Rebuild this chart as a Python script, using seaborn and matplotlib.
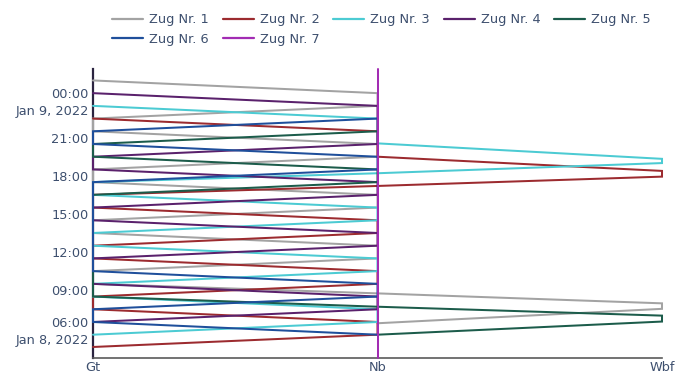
import matplotlib
matplotlib.use("Agg")
import matplotlib.pyplot as plt
from matplotlib.lines import Line2D
import seaborn as sns
import pandas as pd

# ---------------- data ----------------
stationen = ["Gt", "Nb", "Wbf"]
zuege = ["Zug Nr. 1", "Zug Nr. 2", "Zug Nr. 3", "Zug Nr. 4", "Zug Nr. 5", "Zug Nr. 6", "Zug Nr. 7"]
farben = ["#a3a3a3", "#9c2b2f", "#4ccbd3", "#5a216c", "#1c5c4b", "#1f4f9b", "#a22cb3"]

zug1_stationen = ["Nb", "Wbf", "Wbf", "Nb", "Gt", "Gt", "Nb", "Nb", "Gt", "Gt", "Nb",
                  "Nb", "Gt", "Gt", "Nb", "Nb", "Gt", "Gt", "Nb", "Nb", "Gt"]
zug1_zeiten = ["2022-01-08 06:24", "2022-01-08 07:32", "2022-01-08 07:58", "2022-01-08 08:45",
               "2022-01-08 09:30", "2022-01-08 10:30", "2022-01-08 11:30", "2022-01-08 12:30",
               "2022-01-08 13:30", "2022-01-08 14:30", "2022-01-08 15:30", "2022-01-08 16:30",
               "2022-01-08 17:30", "2022-01-08 18:30", "2022-01-08 19:30", "2022-01-08 20:30",
               "2022-01-08 21:30", "2022-01-08 22:30", "2022-01-08 23:30", "2022-01-09 00:30",
               "2022-01-09 01:30"]

zug2_stationen = ["Gt", "Nb", "Nb", "Gt", "Gt", "Nb", "Nb", "Gt", "Gt", "Nb", "Nb", "Gt",
                  "Gt", "Nb", "Wbf", "Wbf", "Nb", "Nb", "Gt"]
zug2_zeiten = ["2022-01-08 04:32", "2022-01-08 05:30", "2022-01-08 06:30", "2022-01-08 07:30",
               "2022-01-08 08:30", "2022-01-08 09:30", "2022-01-08 10:30", "2022-01-08 11:30",
               "2022-01-08 12:30", "2022-01-08 13:30", "2022-01-08 14:30", "2022-01-08 15:30",
               "2022-01-08 16:30", "2022-01-08 17:12", "2022-01-08 17:56", "2022-01-08 18:23",
               "2022-01-08 19:30", "2022-01-08 21:30", "2022-01-08 22:30"]

zug3_stationen = ["Gt", "Nb", "Nb", "Gt", "Gt", "Nb", "Nb", "Gt", "Gt", "Nb", "Nb", "Gt",
                  "Gt", "Nb", "Wbf", "Wbf", "Nb", "Nb", "Gt"]
zug3_zeiten = ["2022-01-08 05:30", "2022-01-08 06:30", "2022-01-08 07:30", "2022-01-08 08:30",
               "2022-01-08 09:30", "2022-01-08 10:30", "2022-01-08 11:30", "2022-01-08 12:30",
               "2022-01-08 13:30", "2022-01-08 14:30", "2022-01-08 15:30", "2022-01-08 16:30",
               "2022-01-08 17:30", "2022-01-08 18:12", "2022-01-08 19:00", "2022-01-08 19:20",
               "2022-01-08 20:33", "2022-01-08 22:30", "2022-01-08 23:30"]

zug4_stationen = ["Gt", "Nb", "Nb", "Gt", "Gt", "Nb", "Nb", "Gt", "Gt", "Nb", "Nb", "Gt",
                  "Gt", "Nb", "Nb", "Gt"]
zug4_zeiten = ["2022-01-08 06:30", "2022-01-08 07:30", "2022-01-08 08:30", "2022-01-08 09:30",
               "2022-01-08 11:30", "2022-01-08 12:30", "2022-01-08 13:30", "2022-01-08 14:30",
               "2022-01-08 15:30", "2022-01-08 16:30", "2022-01-08 17:30", "2022-01-08 18:30",
               "2022-01-08 19:30", "2022-01-08 20:30", "2022-01-08 23:30", "2022-01-09 00:30"]

zug5_stationen = ["Nb", "Wbf", "Wbf", "Nb", "Gt", "Gt", "Nb", "Nb", "Gt", "Gt", "Nb"]
zug5_zeiten = ["2022-01-08 05:30", "2022-01-08 06:32", "2022-01-08 07:00", "2022-01-08 07:42",
               "2022-01-08 08:30", "2022-01-08 16:30", "2022-01-08 17:30", "2022-01-08 18:30",
               "2022-01-08 19:30", "2022-01-08 20:30", "2022-01-08 21:30"]

zug6_stationen = ["Nb", "Gt", "Gt", "Nb", "Nb", "Gt", "Gt", "Nb", "Nb", "Gt", "Gt", "Nb"]
zug6_zeiten = ["2022-01-08 05:30", "2022-01-08 06:30", "2022-01-08 07:30", "2022-01-08 08:30",
               "2022-01-08 09:30", "2022-01-08 10:30", "2022-01-08 17:30", "2022-01-08 18:30",
               "2022-01-08 19:30", "2022-01-08 20:30", "2022-01-08 21:30", "2022-01-08 22:30"]

zug7_stationen = ["Nb", "Nb"]
zug7_zeiten = ["2022-01-08 03:40", "2022-01-09 02:24"]

ytick_zeiten = ["2022-01-08 06:00", "2022-01-08 09:00", "2022-01-08 12:00", "2022-01-08 15:00",
                "2022-01-08 18:00", "2022-01-08 21:00", "2022-01-09 00:00"]
ytick_labels = ["06:00\nJan 8, 2022", "09:00", "12:00", "15:00", "18:00", "21:00", "00:00\nJan 9, 2022"]

# ---------------- build frame ----------------
basis = pd.Timestamp("2022-01-08 00:00")
alle_stationen = [zug1_stationen, zug2_stationen, zug3_stationen, zug4_stationen,
                  zug5_stationen, zug6_stationen, zug7_stationen]
alle_zeiten = [zug1_zeiten, zug2_zeiten, zug3_zeiten, zug4_zeiten,
               zug5_zeiten, zug6_zeiten, zug7_zeiten]
frames = []
for name, st, zt in zip(zuege, alle_stationen, alle_zeiten):
    frames.append(pd.DataFrame({"Zug": name, "Station": st, "Zeit": pd.to_datetime(zt)}))
df = pd.concat(frames, ignore_index=True)
df["x"] = df["Station"].map({s: i for i, s in enumerate(stationen)})
df["h"] = (df["Zeit"] - basis).dt.total_seconds() / 3600.0

# ---------------- plot ----------------
sns.set_theme(style="white")
plt.rcParams["font.family"] = ["DejaVu Sans"]
txt = "#3d4f6e"

W, H = 677, 374
fig = plt.figure(figsize=(W / 100, H / 100), dpi=100)
ax = fig.add_axes([93 / W, 1 - 358 / H, (662 - 93) / W, (358 - 69) / H])

sns.lineplot(data=df, x="x", y="h", hue="Zug", hue_order=zuege, palette=farben,
             sort=False, estimator=None, legend=False, linewidth=1.45, ax=ax)
for ln in ax.lines:
    ln.set_clip_on(False)
    ln.set_solid_joinstyle("miter")

ax.set_xlim(0, len(stationen) - 1)
ax.set_ylim(df["h"].min(), df["h"].max())
ax.set_xticks(range(len(stationen)))
ax.set_xticklabels(stationen)
yt = [(pd.Timestamp(t) - basis).total_seconds() / 3600.0 for t in ytick_zeiten]
ax.set_yticks(yt)
ax.set_yticklabels(ytick_labels, linespacing=1.4, ha="right", multialignment="right")
ax.tick_params(axis="both", length=0, labelsize=9.3, colors=txt)
ax.tick_params(axis="y", pad=3.0)
ax.tick_params(axis="x", pad=2.5)
ax.set_xlabel("")
ax.set_ylabel("")
for s in ["top", "right"]:
    ax.spines[s].set_visible(False)
ax.spines["left"].set_color("#2b2440")
ax.spines["left"].set_linewidth(1.6)
ax.spines["bottom"].set_color("#5a5a5a")
ax.spines["bottom"].set_linewidth(1.2)
ax.spines["left"].set_zorder(1)
ax.spines["bottom"].set_zorder(1)

# legend: row-wise order for 5 columns (matplotlib fills column-wise)
reihenfolge = [0, 5, 1, 6, 2, 3, 4]
handles = [Line2D([0], [0], color=farben[i], lw=1.6) for i in reihenfolge]
labels = [zuege[i] for i in reihenfolge]
fig.legend(handles, labels, loc="upper left", bbox_to_anchor=(112 / W, 1 - 13.5 / H),
           ncol=5, frameon=False, fontsize=9.3, labelcolor=txt, handlelength=2.4,
           handletextpad=0.47, columnspacing=1.07, labelspacing=0.5, borderpad=0,
           borderaxespad=0)

fig.savefig("out.png", dpi=100, facecolor="white")
